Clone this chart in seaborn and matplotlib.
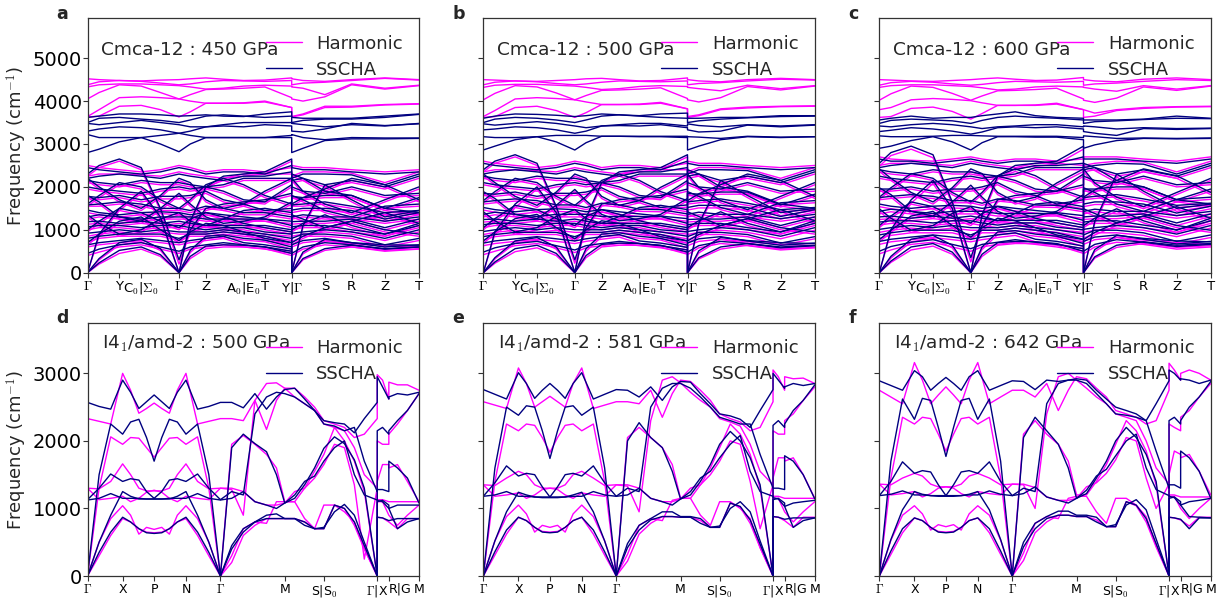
import matplotlib
matplotlib.use("Agg")
import matplotlib.pyplot as plt
from matplotlib.lines import Line2D
import pandas as pd
import seaborn as sns

sns.set_theme(style="white")
plt.rcParams.update({
    "font.family": ["DejaVu Sans"],
    "mathtext.fontset": "cm",
    "axes.edgecolor": "#333333",
    "axes.linewidth": 0.9,
    "xtick.bottom": True,
    "ytick.left": True,
    "xtick.major.size": 3.5,
    "ytick.major.size": 3.5,
    "xtick.major.width": 0.8,
    "ytick.major.width": 0.8,
    "xtick.color": "#333333",
    "ytick.color": "#333333",
    "xtick.labelcolor": "black",
    "ytick.labelcolor": "black",
})

HARM_COLOR = "#ff00ff"
SSCHA_COLOR = "#000080"

# ---------------------------------------------------------------- Cmca-12
# k-path: G .. Y C0|S0 .. G .. Z .. A0|E0 T Y|G .. S R Z T
cmca_k = [0.0, 0.035, 0.096, 0.162, 0.22, 0.276, 0.31, 0.357, 0.41, 0.471,
          0.535, 0.616, 0.616, 0.65, 0.716, 0.797, 0.897, 1.0]
cmca_ticks = [0.0, 0.096, 0.162, 0.276, 0.357, 0.471, 0.535, 0.616, 0.716, 0.797, 0.897, 1.0]
cmca_labels = [r"$\Gamma$", "Y", r"C$_0$|$\Sigma_0$", r"$\Gamma$", "Z", r"A$_0$|E$_0$",
               "T", r"Y|$\Gamma$", "S", "R", "Z", "T"]

# 450 GPa
a_harm = [
    [4520, 4500, 4480, 4470, 4490, 4500, 4520, 4540, 4510, 4480, 4490, 4540, 4520, 4480, 4460, 4500, 4540, 4500],
    [4380, 4450, 4480, 4460, 4420, 4380, 4400, 4450, 4480, 4470, 4460, 4480, 4380, 4420, 4440, 4480, 4530, 4490],
    [4330, 4380, 4400, 4400, 4380, 4360, 4330, 4280, 4300, 4350, 4370, 4350, 4330, 4300, 4150, 4400, 4300, 4370],
    [4050, 4200, 4380, 4350, 4200, 4050, 4150, 4270, 4280, 4300, 4330, 4080, 4050, 4000, 4100, 4380, 4280, 4360],
    [3640, 3800, 4080, 4100, 4080, 4050, 4000, 3950, 3950, 3960, 4000, 3850, 3640, 3700, 3880, 3880, 3920, 3940],
    [3630, 3650, 3880, 3900, 3800, 3630, 3750, 3950, 3950, 3950, 3980, 3850, 3630, 3680, 3850, 3860, 3910, 3930],
    [0, 200, 450, 550, 380, 0, 330, 560, 600, 600, 560, 400, 0, 300, 520, 600, 520, 560],
    [0, 300, 650, 720, 520, 0, 470, 800, 830, 760, 720, 550, 0, 440, 740, 680, 620, 600],
    [0, 850, 1450, 1850, 1250, 0, 1150, 1950, 2200, 2250, 2300, 2600, 0, 1050, 2000, 1650, 1250, 1400],
    [2250, 2450, 2600, 2400, 1450, 200, 950, 1450, 1550, 1600, 1650, 1800, 2250, 2150, 1850, 1750, 1450, 1350],
    [2500, 2450, 2400, 2350, 2400, 2500, 2450, 2350, 2400, 2400, 2350, 2450, 2500, 2450, 2450, 2400, 2350, 2400],
    [2250, 2300, 2300, 2280, 2250, 2350, 2300, 2250, 2200, 2300, 2300, 2300, 2250, 2350, 2350, 2320, 2100, 2350],
    [2100, 2050, 2000, 2100, 2050, 2050, 2000, 1950, 2000, 2150, 2150, 2150, 2100, 2150, 2000, 2100, 1950, 2200],
    [1950, 1900, 1850, 1800, 1900, 1950, 1900, 1950, 1850, 1650, 1600, 2000, 1950, 1850, 1800, 1950, 1750, 1800],
    [1750, 1700, 1750, 1650, 1720, 1720, 1750, 1850, 1650, 1550, 1400, 1450, 1750, 1700, 1750, 1750, 1450, 1700],
    [1550, 1550, 1600, 1550, 1450, 1450, 1400, 1500, 1450, 1350, 1350, 1250, 1550, 1550, 1600, 1500, 1350, 1400],
    [1400, 1350, 1300, 1350, 1380, 1350, 1300, 1350, 1300, 1250, 1200, 1150, 1400, 1450, 1450, 1400, 1200, 1350],
    [1250, 1300, 1250, 1200, 1250, 1250, 1250, 1200, 1200, 1200, 1200, 1050, 1250, 1300, 1250, 1250, 1150, 1250],
    [1130, 1150, 1100, 1150, 1100, 1150, 1100, 1050, 1050, 1050, 1050, 950, 1130, 1150, 1150, 1200, 1000, 1200],
    [1000, 1050, 1050, 1000, 1050, 1050, 1000, 950, 1000, 1000, 900, 850, 1000, 1050, 1050, 950, 850, 1050],
    [850, 900, 950, 900, 950, 900, 900, 900, 950, 900, 850, 750, 850, 900, 950, 900, 750, 950],
    [720, 800, 850, 850, 850, 750, 850, 850, 900, 850, 800, 650, 720, 850, 850, 800, 600, 750],
    [600, 650, 700, 750, 700, 650, 700, 750, 800, 650, 600, 500, 600, 700, 750, 650, 550, 600],
    [400, 480, 600, 650, 550, 450, 550, 600, 650, 600, 550, 450, 400, 550, 650, 600, 500, 550],
    [2150, 1950, 1650, 1450, 1750, 2150, 2050, 1650, 1450, 1550, 1850, 2150, 2150, 1850, 1550, 1350, 1650, 1950],
    [1550, 1750, 2050, 1950, 1650, 1450, 1650, 2000, 2150, 2000, 1750, 1550, 1550, 1700, 1900, 2150, 2000, 1650],
    [950, 1150, 1450, 1350, 1150, 1000, 1200, 1350, 1250, 1100, 1000, 900, 950, 1100, 1300, 1050, 850, 1100],
    [1300, 1100, 850, 950, 1200, 1350, 1150, 1050, 1200, 1400, 1450, 1350, 1300, 1200, 1000, 1150, 1350, 1100],
    [1750, 1600, 1250, 1150, 1450, 1800, 1550, 1250, 1100, 1150, 1250, 1600, 1750, 1650, 1400, 1250, 1500, 1550],
    [650, 850, 1150, 1250, 950, 700, 900, 1100, 1050, 900, 750, 650, 650, 800, 1000, 1150, 950, 850],
]
a_sscha = [
    [3620, 3650, 3700, 3700, 3680, 3650, 3660, 3680, 3650, 3640, 3700, 3750, 3620, 3600, 3600, 3600, 3650, 3700],
    [3500, 3600, 3620, 3580, 3550, 3500, 3560, 3650, 3680, 3650, 3620, 3650, 3500, 3550, 3580, 3580, 3620, 3690],
    [3480, 3450, 3500, 3550, 3500, 3450, 3400, 3400, 3450, 3500, 3500, 3500, 3480, 3450, 3400, 3450, 3420, 3480],
    [3300, 3350, 3400, 3380, 3330, 3250, 3300, 3400, 3420, 3400, 3450, 3420, 3300, 3280, 3350, 3480, 3430, 3470],
    [3220, 3150, 3150, 3150, 3200, 3250, 3200, 3150, 3150, 3150, 3150, 3200, 3220, 3150, 3100, 3150, 3140, 3140],
    [2800, 2880, 3050, 3150, 3000, 2820, 3000, 3150, 3150, 3150, 3150, 3150, 2800, 2900, 3080, 3120, 3120, 3130],
    [0, 230, 520, 600, 420, 0, 380, 620, 650, 640, 600, 450, 0, 330, 560, 640, 560, 600],
    [0, 330, 700, 780, 560, 0, 520, 850, 880, 800, 760, 600, 0, 480, 780, 700, 650, 640],
    [0, 900, 1500, 1900, 1300, 0, 1200, 2000, 2250, 2300, 2350, 2650, 0, 1100, 2050, 1700, 1300, 1450],
    [2300, 2500, 2650, 2450, 1500, 300, 1000, 1500, 1600, 1650, 1700, 1850, 2300, 2200, 1900, 1800, 1500, 1400],
    [2450, 2400, 2350, 2300, 2350, 2450, 2400, 2300, 2350, 2350, 2300, 2500, 2450, 2400, 2400, 2350, 2300, 2350],
    [2200, 2250, 2300, 2250, 2200, 2300, 2250, 2200, 2150, 2250, 2250, 2350, 2200, 2300, 2300, 2280, 2050, 2300],
    [2150, 2100, 2050, 2150, 2100, 2100, 2050, 2000, 2050, 2200, 2200, 2200, 2150, 2200, 2050, 2150, 2000, 2250],
    [2000, 1950, 1900, 1850, 1950, 2000, 1950, 2000, 1900, 1700, 1650, 2050, 2000, 1900, 1850, 2000, 1800, 1850],
    [1780, 1750, 1800, 1700, 1780, 1780, 1800, 1900, 1700, 1600, 1450, 1500, 1780, 1750, 1800, 1800, 1500, 1750],
    [1580, 1600, 1650, 1600, 1500, 1500, 1450, 1550, 1500, 1400, 1400, 1300, 1580, 1600, 1650, 1550, 1400, 1450],
    [1460, 1400, 1350, 1400, 1420, 1400, 1350, 1400, 1350, 1300, 1250, 1200, 1460, 1500, 1500, 1450, 1250, 1400],
    [1300, 1350, 1300, 1250, 1300, 1300, 1300, 1250, 1250, 1250, 1250, 1100, 1300, 1350, 1300, 1300, 1200, 1300],
    [1190, 1200, 1150, 1200, 1150, 1200, 1150, 1100, 1100, 1100, 1100, 1000, 1190, 1200, 1200, 1250, 1050, 1250],
    [1070, 1100, 1100, 1050, 1100, 1100, 1050, 1000, 1050, 1050, 950, 900, 1070, 1100, 1100, 1000, 900, 1100],
    [920, 950, 1000, 950, 1000, 950, 950, 950, 1000, 950, 900, 800, 920, 950, 1000, 950, 800, 1000],
    [800, 850, 900, 900, 900, 800, 900, 900, 950, 900, 850, 700, 800, 900, 900, 850, 650, 800],
    [650, 700, 750, 800, 750, 700, 750, 800, 850, 700, 650, 550, 650, 750, 800, 700, 600, 650],
    [450, 550, 650, 700, 600, 500, 600, 650, 700, 650, 600, 500, 450, 600, 700, 650, 550, 600],
    [2200, 2000, 1700, 1500, 1800, 2200, 2100, 1700, 1500, 1600, 1900, 2200, 2200, 1900, 1600, 1400, 1700, 2000],
    [1600, 1800, 2100, 2000, 1700, 1500, 1700, 2050, 2200, 2050, 1800, 1600, 1600, 1750, 1950, 2200, 2050, 1700],
    [1000, 1200, 1500, 1400, 1200, 1050, 1250, 1400, 1300, 1150, 1050, 950, 1000, 1150, 1350, 1100, 900, 1150],
    [1350, 1150, 900, 1000, 1250, 1400, 1200, 1100, 1250, 1450, 1500, 1400, 1350, 1250, 1050, 1200, 1400, 1150],
    [1800, 1650, 1300, 1200, 1500, 1850, 1600, 1300, 1150, 1200, 1300, 1650, 1800, 1700, 1450, 1300, 1550, 1600],
    [700, 900, 1200, 1300, 1000, 750, 950, 1150, 1100, 950, 800, 700, 700, 850, 1050, 1200, 1000, 900],
]

# 500 GPa
b_harm = [
    [4500, 4490, 4470, 4460, 4480, 4500, 4520, 4530, 4500, 4470, 4480, 4540, 4500, 4470, 4450, 4500, 4530, 4500],
    [4380, 4440, 4470, 4450, 4410, 4380, 4400, 4440, 4470, 4460, 4450, 4470, 4380, 4410, 4430, 4470, 4510, 4490],
    [4320, 4370, 4390, 4390, 4370, 4350, 4320, 4270, 4290, 4340, 4360, 4340, 4320, 4290, 4240, 4370, 4290, 4360],
    [4030, 4180, 4360, 4330, 4190, 4030, 4130, 4250, 4260, 4280, 4310, 4060, 4030, 3980, 4080, 4340, 4260, 4350],
    [3640, 3780, 4050, 4080, 4060, 4030, 3980, 3920, 3920, 3930, 3970, 3820, 3640, 3680, 3820, 3860, 3880, 3890],
    [3620, 3640, 3850, 3880, 3780, 3620, 3730, 3920, 3920, 3920, 3950, 3820, 3620, 3660, 3800, 3840, 3870, 3880],
    [0, 220, 490, 580, 400, 0, 350, 600, 640, 640, 600, 430, 0, 320, 550, 640, 550, 590],
    [0, 320, 690, 760, 550, 0, 500, 840, 870, 800, 760, 580, 0, 460, 780, 720, 660, 630],
    [0, 900, 1520, 1950, 1330, 0, 1220, 2050, 2300, 2350, 2400, 2700, 0, 1100, 2100, 1750, 1330, 1450],
    [2350, 2550, 2700, 2500, 1500, 220, 1000, 1550, 1650, 1700, 1750, 1900, 2350, 2250, 1950, 1850, 1550, 1450],
    [2600, 2550, 2500, 2450, 2500, 2600, 2550, 2450, 2500, 2500, 2450, 2550, 2600, 2550, 2550, 2500, 2450, 2500],
    [2350, 2400, 2400, 2380, 2350, 2450, 2400, 2350, 2300, 2400, 2400, 2400, 2350, 2450, 2450, 2420, 2200, 2450],
    [2200, 2150, 2100, 2200, 2150, 2150, 2100, 2050, 2100, 2250, 2250, 2250, 2200, 2250, 2100, 2200, 2050, 2300],
    [2050, 2000, 1950, 1900, 2000, 2050, 2000, 2050, 1950, 1750, 1700, 2100, 2050, 1950, 1900, 2050, 1850, 1900],
    [1800, 1780, 1830, 1730, 1800, 1800, 1830, 1930, 1730, 1630, 1470, 1530, 1800, 1780, 1830, 1830, 1530, 1780],
    [1600, 1630, 1670, 1630, 1530, 1530, 1470, 1570, 1530, 1430, 1420, 1320, 1600, 1630, 1670, 1570, 1420, 1470],
    [1460, 1410, 1360, 1410, 1430, 1410, 1360, 1410, 1360, 1310, 1260, 1200, 1460, 1510, 1510, 1460, 1250, 1410],
    [1300, 1350, 1300, 1250, 1300, 1300, 1300, 1250, 1250, 1250, 1250, 1100, 1300, 1350, 1300, 1300, 1200, 1300],
    [1180, 1200, 1150, 1200, 1150, 1200, 1150, 1100, 1100, 1100, 1100, 1000, 1180, 1200, 1200, 1250, 1050, 1250],
    [1050, 1100, 1100, 1050, 1100, 1100, 1050, 1000, 1050, 1050, 950, 900, 1050, 1100, 1100, 1000, 900, 1100],
    [890, 940, 990, 940, 990, 940, 940, 940, 990, 940, 890, 790, 890, 940, 990, 940, 790, 990],
    [760, 840, 890, 890, 890, 790, 890, 890, 940, 890, 840, 690, 760, 890, 890, 840, 640, 790],
    [630, 680, 730, 780, 730, 680, 730, 780, 830, 680, 630, 530, 630, 730, 780, 680, 580, 630],
    [420, 500, 630, 680, 580, 470, 580, 630, 680, 630, 580, 470, 420, 580, 680, 630, 530, 580],
    [2250, 2050, 1730, 1520, 1830, 2250, 2150, 1730, 1520, 1630, 1940, 2250, 2250, 1940, 1630, 1420, 1730, 2050],
    [1630, 1840, 2150, 2050, 1730, 1520, 1730, 2100, 2250, 2100, 1840, 1630, 1630, 1790, 2000, 2250, 2100, 1730],
    [1000, 1210, 1520, 1420, 1210, 1050, 1260, 1420, 1310, 1160, 1050, 950, 1000, 1160, 1370, 1100, 900, 1160],
    [1370, 1160, 900, 1000, 1260, 1420, 1210, 1100, 1260, 1470, 1520, 1420, 1370, 1260, 1050, 1210, 1420, 1160],
    [1840, 1680, 1310, 1210, 1520, 1890, 1630, 1310, 1160, 1210, 1310, 1680, 1840, 1730, 1470, 1310, 1580, 1630],
    [690, 900, 1210, 1310, 1000, 740, 950, 1160, 1100, 950, 790, 690, 690, 840, 1050, 1210, 1000, 900],
]
b_sscha = [
    [3600, 3650, 3700, 3690, 3670, 3640, 3660, 3700, 3680, 3660, 3700, 3720, 3600, 3600, 3620, 3620, 3660, 3660],
    [3500, 3580, 3620, 3600, 3560, 3500, 3560, 3650, 3680, 3650, 3620, 3600, 3500, 3540, 3580, 3610, 3640, 3650],
    [3470, 3440, 3480, 3520, 3480, 3420, 3380, 3420, 3450, 3480, 3480, 3420, 3470, 3430, 3400, 3450, 3420, 3450],
    [3330, 3350, 3400, 3380, 3330, 3250, 3300, 3420, 3430, 3420, 3450, 3380, 3330, 3280, 3300, 3440, 3400, 3440],
    [3170, 3150, 3150, 3170, 3200, 3200, 3200, 3180, 3180, 3180, 3180, 3180, 3170, 3160, 3130, 3180, 3160, 3170],
    [2860, 2950, 3100, 3170, 3050, 2860, 3030, 3180, 3180, 3170, 3170, 3150, 2860, 2950, 3100, 3170, 3150, 3170],
    [0, 250, 560, 640, 450, 0, 400, 660, 690, 680, 640, 480, 0, 350, 600, 680, 600, 640],
    [0, 350, 740, 820, 600, 0, 560, 900, 930, 850, 800, 640, 0, 510, 820, 750, 700, 680],
    [0, 950, 1600, 2000, 1400, 0, 1280, 2100, 2350, 2400, 2450, 2750, 0, 1150, 2150, 1800, 1400, 1500],
    [2400, 2600, 2750, 2550, 1550, 300, 1050, 1600, 1700, 1750, 1800, 1950, 2400, 2300, 2000, 1900, 1600, 1500],
    [2550, 2500, 2450, 2400, 2450, 2550, 2500, 2400, 2450, 2450, 2400, 2600, 2550, 2500, 2500, 2450, 2400, 2450],
    [2300, 2350, 2400, 2350, 2300, 2400, 2350, 2300, 2250, 2350, 2350, 2450, 2300, 2400, 2400, 2380, 2150, 2400],
    [2250, 2200, 2150, 2250, 2200, 2200, 2150, 2100, 2150, 2300, 2300, 2300, 2250, 2300, 2150, 2250, 2100, 2350],
    [2100, 2050, 2000, 1950, 2050, 2100, 2050, 2100, 2000, 1800, 1750, 2150, 2100, 2000, 1950, 2100, 1900, 1950],
    [1850, 1830, 1880, 1780, 1850, 1850, 1880, 1980, 1780, 1680, 1520, 1580, 1850, 1830, 1880, 1880, 1580, 1830],
    [1650, 1680, 1720, 1680, 1580, 1580, 1520, 1620, 1580, 1480, 1470, 1370, 1650, 1680, 1720, 1620, 1470, 1520],
    [1520, 1470, 1420, 1470, 1490, 1470, 1420, 1470, 1420, 1370, 1320, 1260, 1520, 1570, 1570, 1520, 1310, 1470],
    [1360, 1410, 1360, 1310, 1360, 1360, 1360, 1310, 1310, 1310, 1310, 1150, 1360, 1410, 1360, 1360, 1260, 1360],
    [1240, 1250, 1200, 1250, 1200, 1250, 1200, 1150, 1150, 1150, 1150, 1050, 1240, 1250, 1250, 1300, 1100, 1300],
    [1120, 1150, 1150, 1100, 1150, 1150, 1100, 1050, 1100, 1100, 1000, 950, 1120, 1150, 1150, 1050, 950, 1150],
    [960, 1000, 1050, 1000, 1050, 1000, 1000, 1000, 1050, 1000, 950, 850, 960, 1000, 1050, 1000, 850, 1050],
    [840, 890, 940, 940, 940, 840, 940, 940, 990, 940, 890, 740, 840, 940, 940, 890, 690, 840],
    [690, 740, 790, 840, 790, 740, 790, 840, 890, 740, 690, 590, 690, 790, 840, 740, 640, 690],
    [480, 580, 680, 730, 630, 530, 630, 680, 730, 680, 630, 530, 480, 630, 730, 680, 580, 630],
    [2300, 2100, 1780, 1570, 1880, 2300, 2200, 1780, 1570, 1680, 1990, 2300, 2300, 1990, 1680, 1470, 1780, 2100],
    [1680, 1890, 2200, 2100, 1780, 1570, 1780, 2150, 2300, 2150, 1890, 1680, 1680, 1840, 2050, 2300, 2150, 1780],
    [1050, 1260, 1570, 1470, 1260, 1100, 1310, 1470, 1360, 1210, 1100, 1000, 1050, 1210, 1420, 1150, 950, 1210],
    [1420, 1210, 950, 1050, 1310, 1470, 1260, 1150, 1310, 1520, 1570, 1470, 1420, 1310, 1100, 1260, 1470, 1210],
    [1890, 1730, 1360, 1260, 1570, 1940, 1680, 1360, 1210, 1260, 1360, 1730, 1890, 1780, 1520, 1360, 1630, 1680],
    [740, 950, 1260, 1360, 1050, 790, 1000, 1210, 1150, 1000, 840, 740, 740, 890, 1100, 1260, 1050, 950],
]

# 600 GPa
c_harm = [
    [4500, 4490, 4470, 4460, 4480, 4500, 4520, 4540, 4510, 4480, 4490, 4550, 4500, 4470, 4450, 4510, 4540, 4500],
    [4370, 4430, 4460, 4440, 4400, 4370, 4390, 4430, 4460, 4450, 4440, 4460, 4370, 4400, 4420, 4460, 4500, 4480],
    [4320, 4360, 4380, 4380, 4360, 4340, 4310, 4260, 4280, 4330, 4350, 4330, 4320, 4280, 4230, 4360, 4280, 4360],
    [4020, 4170, 4350, 4320, 4180, 4020, 4120, 4240, 4250, 4270, 4300, 4050, 4020, 3970, 4070, 4330, 4250, 4350],
    [3800, 3850, 4030, 4060, 4040, 4010, 3960, 3900, 3900, 3910, 3950, 3800, 3800, 3720, 3800, 3850, 3870, 3880],
    [3620, 3640, 3830, 3860, 3760, 3580, 3710, 3900, 3900, 3900, 3930, 3800, 3620, 3650, 3780, 3830, 3860, 3870],
    [0, 240, 530, 620, 430, 0, 380, 640, 680, 680, 640, 450, 0, 340, 590, 680, 590, 630],
    [0, 340, 720, 800, 580, 0, 540, 890, 920, 850, 800, 610, 0, 490, 830, 760, 700, 670],
    [0, 950, 1620, 2080, 1420, 0, 1290, 2180, 2430, 2480, 2530, 2880, 0, 1150, 2230, 1850, 1430, 1550],
    [2480, 2730, 2880, 2680, 1600, 250, 1050, 1650, 1750, 1800, 1850, 2000, 2480, 2380, 2100, 1950, 1650, 1550],
    [2700, 2650, 2620, 2600, 2650, 2700, 2650, 2600, 2650, 2650, 2600, 2650, 2700, 2700, 2700, 2650, 2600, 2700],
    [2500, 2550, 2550, 2530, 2500, 2600, 2550, 2500, 2450, 2550, 2550, 2500, 2500, 2550, 2600, 2580, 2350, 2600],
    [2350, 2300, 2250, 2350, 2300, 2300, 2250, 2200, 2250, 2400, 2400, 2400, 2350, 2400, 2250, 2350, 2200, 2450],
    [2200, 2150, 2100, 2050, 2150, 2200, 2150, 2200, 2100, 1900, 1850, 2250, 2200, 2100, 2050, 2200, 2000, 2050],
    [1900, 1900, 1950, 1850, 1900, 1900, 1950, 2050, 1850, 1750, 1550, 1650, 1900, 1900, 1950, 1950, 1650, 1900],
    [1700, 1730, 1770, 1730, 1630, 1630, 1570, 1670, 1630, 1530, 1520, 1420, 1700, 1730, 1770, 1670, 1520, 1570],
    [1540, 1490, 1440, 1490, 1510, 1490, 1440, 1490, 1440, 1390, 1340, 1270, 1540, 1590, 1590, 1540, 1330, 1490],
    [1370, 1420, 1370, 1320, 1370, 1370, 1370, 1320, 1320, 1320, 1320, 1160, 1370, 1420, 1370, 1370, 1270, 1370],
    [1240, 1260, 1210, 1260, 1210, 1260, 1210, 1160, 1160, 1160, 1160, 1050, 1240, 1260, 1260, 1310, 1100, 1310],
    [1110, 1150, 1150, 1100, 1150, 1150, 1100, 1050, 1100, 1100, 1000, 940, 1110, 1150, 1150, 1050, 940, 1150],
    [940, 990, 1040, 990, 1040, 990, 990, 990, 1040, 990, 940, 840, 940, 990, 1040, 990, 840, 1040],
    [800, 870, 930, 930, 930, 820, 930, 930, 980, 930, 870, 720, 800, 930, 930, 870, 670, 820],
    [660, 720, 770, 820, 770, 720, 770, 820, 870, 720, 670, 560, 660, 770, 820, 720, 610, 670],
    [440, 530, 660, 710, 600, 500, 600, 660, 710, 660, 600, 500, 440, 600, 710, 660, 550, 600],
    [2360, 2150, 1820, 1600, 1930, 2360, 2260, 1820, 1600, 1710, 2040, 2360, 2360, 2040, 1710, 1490, 1820, 2150],
    [1710, 1930, 2260, 2150, 1820, 1600, 1820, 2200, 2360, 2200, 1930, 1710, 1710, 1880, 2100, 2360, 2200, 1820],
    [1050, 1270, 1600, 1490, 1270, 1100, 1320, 1490, 1380, 1210, 1100, 990, 1050, 1210, 1430, 1160, 940, 1210],
    [1430, 1210, 940, 1050, 1320, 1490, 1270, 1160, 1320, 1540, 1600, 1490, 1430, 1320, 1100, 1270, 1490, 1210],
    [1930, 1760, 1380, 1270, 1600, 1980, 1710, 1380, 1210, 1270, 1380, 1760, 1930, 1820, 1540, 1380, 1650, 1710],
    [720, 940, 1270, 1380, 1050, 770, 990, 1210, 1160, 990, 830, 720, 720, 880, 1100, 1270, 1050, 940],
]
c_sscha = [
    [3560, 3600, 3650, 3600, 3620, 3620, 3660, 3700, 3750, 3660, 3620, 3600, 3560, 3560, 3560, 3580, 3650, 3600],
    [3480, 3550, 3580, 3560, 3540, 3480, 3550, 3620, 3650, 3620, 3600, 3560, 3480, 3520, 3540, 3570, 3600, 3590],
    [3420, 3400, 3450, 3480, 3450, 3400, 3360, 3400, 3420, 3450, 3450, 3400, 3420, 3400, 3350, 3380, 3360, 3370],
    [3290, 3320, 3380, 3350, 3300, 3230, 3280, 3380, 3400, 3380, 3400, 3350, 3290, 3250, 3200, 3360, 3340, 3360],
    [3190, 3170, 3170, 3180, 3200, 3200, 3190, 3180, 3180, 3180, 3180, 3150, 3190, 3170, 3130, 3140, 3130, 3140],
    [2900, 2950, 3080, 3170, 3050, 2860, 3030, 3170, 3170, 3160, 3160, 3100, 2900, 2980, 3080, 3130, 3120, 3130],
    [0, 270, 600, 680, 480, 0, 430, 700, 730, 720, 680, 500, 0, 370, 640, 720, 640, 680],
    [0, 380, 780, 870, 640, 0, 600, 950, 980, 900, 850, 680, 0, 540, 870, 800, 740, 720],
    [0, 1000, 1700, 2150, 1500, 0, 1350, 2250, 2500, 2550, 2600, 2950, 0, 1200, 2300, 1900, 1500, 1600],
    [2550, 2800, 2950, 2750, 1650, 350, 1100, 1700, 1800, 1850, 1900, 2050, 2550, 2450, 2150, 2000, 1700, 1600],
    [2650, 2600, 2600, 2550, 2600, 2650, 2600, 2550, 2600, 2600, 2550, 2700, 2650, 2650, 2650, 2600, 2550, 2650],
    [2450, 2500, 2550, 2500, 2450, 2550, 2500, 2450, 2400, 2500, 2500, 2550, 2450, 2500, 2550, 2530, 2300, 2550],
    [2400, 2350, 2300, 2400, 2350, 2350, 2300, 2250, 2300, 2450, 2450, 2450, 2400, 2450, 2300, 2400, 2250, 2500],
    [2250, 2200, 2150, 2100, 2200, 2250, 2200, 2250, 2150, 1950, 1900, 2300, 2250, 2150, 2100, 2250, 2050, 2100],
    [1950, 1950, 2000, 1900, 1950, 1950, 2000, 2100, 1900, 1800, 1600, 1700, 1950, 1950, 2000, 2000, 1700, 1950],
    [1750, 1780, 1820, 1780, 1680, 1680, 1620, 1720, 1680, 1580, 1570, 1470, 1750, 1780, 1820, 1720, 1570, 1620],
    [1600, 1550, 1500, 1550, 1570, 1550, 1500, 1550, 1500, 1450, 1400, 1330, 1600, 1650, 1650, 1600, 1390, 1550],
    [1430, 1480, 1430, 1380, 1430, 1430, 1430, 1380, 1380, 1380, 1380, 1220, 1430, 1480, 1430, 1430, 1330, 1430],
    [1300, 1320, 1270, 1320, 1270, 1320, 1270, 1220, 1220, 1220, 1220, 1110, 1300, 1320, 1320, 1370, 1160, 1370],
    [1180, 1210, 1210, 1160, 1210, 1210, 1160, 1110, 1160, 1160, 1060, 1000, 1180, 1210, 1210, 1110, 1000, 1210],
    [1010, 1050, 1100, 1050, 1100, 1050, 1050, 1050, 1100, 1050, 1000, 900, 1010, 1050, 1100, 1050, 900, 1100],
    [880, 930, 990, 990, 990, 880, 990, 990, 1040, 990, 930, 780, 880, 990, 990, 930, 730, 880],
    [730, 780, 830, 880, 830, 780, 830, 880, 930, 780, 730, 620, 730, 830, 880, 780, 670, 730],
    [500, 610, 710, 770, 660, 560, 660, 710, 770, 710, 660, 560, 500, 660, 770, 710, 610, 660],
    [2420, 2200, 1870, 1650, 1980, 2420, 2310, 1870, 1650, 1760, 2090, 2420, 2420, 2090, 1760, 1540, 1870, 2200],
    [1760, 1980, 2310, 2200, 1870, 1650, 1870, 2260, 2420, 2260, 1980, 1760, 1760, 1930, 2150, 2420, 2260, 1870],
    [1100, 1320, 1650, 1540, 1320, 1160, 1380, 1540, 1430, 1270, 1160, 1050, 1100, 1270, 1490, 1210, 990, 1270],
    [1490, 1270, 990, 1100, 1380, 1540, 1320, 1210, 1380, 1600, 1650, 1540, 1490, 1380, 1160, 1320, 1540, 1270],
    [1980, 1820, 1430, 1320, 1650, 2040, 1760, 1430, 1270, 1320, 1430, 1820, 1980, 1870, 1600, 1430, 1710, 1760],
    [770, 990, 1320, 1430, 1100, 830, 1050, 1270, 1210, 1050, 880, 770, 770, 940, 1160, 1320, 1100, 990],
]

# ---------------------------------------------------------------- I4_1/amd-2
# k-path: G X P N G .. M S|S0 .. G|X R|G .. M
i4_k = [0.0, 0.035, 0.07, 0.106, 0.13, 0.155, 0.178, 0.201, 0.224, 0.247, 0.271, 0.297, 0.332, 0.366, 0.401,
        0.435, 0.47, 0.505, 0.54, 0.57, 0.595, 0.625, 0.655, 0.685, 0.713, 0.745, 0.775, 0.805, 0.835, 0.874,
        0.874, 0.89, 0.909, 0.909, 0.935, 0.965, 1.0]
i4_ticks = [0.0, 0.106, 0.201, 0.297, 0.401, 0.595, 0.713, 0.874, 0.909, 1.0]
i4_labels = [r"$\Gamma$", "X", "P", "N", r"$\Gamma$", "M", r"S|S$_0$", r"$\Gamma$|X", "R|G", "M"]

# 500 GPa
d_harm = [
    [2330, 2290, 2250, 3000, 2750, 2410, 2480, 2560, 2480, 2410, 2750, 3000, 2250, 2290, 2330,
     2330, 2300, 2600, 2170, 2600, 2780, 2780, 2650, 2500, 2300, 2250, 2200, 2050, 2100, 2330,
     2980, 2900, 2620, 2870, 2830, 2830, 2750],
    [0, 1300, 2060, 1950, 2050, 2040, 1900, 1760, 1900, 2040, 2050, 1950, 2060, 1300, 0,
     1950, 2080, 1950, 1800, 1600, 1100, 1100, 1300, 1550, 1800, 2200, 2000, 1700, 1250, 0,
     2000, 1950, 1950, 2100, 2250, 2450, 2700],
    [1300, 1290, 1400, 1660, 1500, 1300, 1260, 1260, 1260, 1300, 1500, 1660, 1400, 1290, 1300,
     1280, 900, 2600, 2850, 2860, 2780, 2650, 2550, 2450, 2250, 2200, 2150, 1900, 1500, 1300,
     1400, 1650, 1650, 1600, 1650, 1400, 1100],
    [0, 500, 850, 1040, 900, 620, 720, 690, 720, 620, 900, 1040, 850, 500, 0,
     300, 700, 800, 780, 1100, 1100, 1100, 850, 700, 1050, 1050, 950, 800, 400, 0,
     1100, 1100, 900, 900, 750, 900, 1050],
    [0, 300, 600, 850, 800, 700, 650, 640, 650, 700, 800, 850, 600, 300, 0,
     200, 600, 750, 850, 850, 850, 850, 800, 700, 700, 1050, 1000, 750, 400, 0,
     870, 860, 800, 800, 700, 850, 850],
    [1300, 1130, 1150, 1180, 1100, 1150, 1240, 1270, 1240, 1150, 1100, 1180, 1150, 1130, 1300,
     1300, 1250, 1100, 1050, 1050, 1080, 1250, 1300, 1450, 1650, 1950, 1900, 1350, 250, 1300,
     1130, 1130, 1100, 1100, 1100, 1100, 1100],
]
d_sscha = [
    [2570, 2510, 2470, 2900, 2720, 2480, 2580, 2680, 2580, 2480, 2720, 2900, 2470, 2510, 2570,
     2570, 2490, 2700, 2470, 2650, 2760, 2780, 2620, 2450, 2300, 2270, 2250, 2120, 2330, 2570,
     2950, 2800, 2620, 2650, 2700, 2680, 2720],
    [0, 1500, 2250, 2100, 2280, 2320, 2050, 1700, 2050, 2320, 2280, 2100, 2250, 1500, 0,
     1900, 2100, 1960, 1840, 1500, 1080, 1150, 1350, 1600, 1890, 2060, 1960, 1720, 1300, 0,
     2150, 2200, 2100, 2150, 2300, 2450, 2700],
    [1130, 1300, 1510, 1400, 1440, 1420, 1250, 1150, 1250, 1420, 1440, 1400, 1510, 1300, 1130,
     1250, 1200, 2400, 2650, 2720, 2700, 2650, 2550, 2450, 2250, 2220, 2150, 2200, 1700, 1250,
     1280, 1280, 1250, 1700, 1600, 1450, 1080],
    [0, 500, 900, 1250, 1180, 1140, 1140, 1140, 1140, 1140, 1180, 1250, 900, 500, 0,
     450, 700, 800, 900, 920, 850, 850, 800, 700, 720, 950, 1060, 900, 500, 0,
     1100, 1120, 1050, 1000, 1050, 1050, 1050],
    [0, 350, 650, 870, 800, 700, 640, 630, 640, 700, 800, 870, 650, 350, 0,
     400, 650, 800, 850, 850, 850, 850, 750, 700, 700, 1050, 1000, 800, 450, 0,
     870, 860, 820, 820, 850, 850, 850],
    [1125, 1150, 1220, 1150, 1150, 1150, 1140, 1140, 1140, 1150, 1150, 1150, 1220, 1150, 1125,
     1150, 1250, 1100, 1050, 1000, 1080, 1200, 1400, 1480, 1700, 1900, 2000, 1500, 1200, 1125,
     1120, 1100, 1000, 1000, 700, 800, 850],
]

# 581 GPa
e_harm = [
    [2580, 2530, 2480, 3080, 2850, 2500, 2580, 2660, 2580, 2500, 2850, 3080, 2480, 2530, 2580,
     2580, 2550, 2750, 2350, 2700, 2900, 2880, 2750, 2600, 2400, 2330, 2280, 2150, 2200, 2580,
     3050, 2950, 2750, 2950, 2920, 2930, 2850],
    [0, 1400, 2250, 2150, 2250, 2230, 2050, 1830, 2050, 2230, 2250, 2150, 2250, 1400, 0,
     2050, 2200, 2050, 1900, 1650, 1150, 1150, 1350, 1600, 1900, 2250, 2100, 1800, 1300, 0,
     2150, 2100, 2100, 2300, 2400, 2600, 2800],
    [1350, 1340, 1450, 1550, 1500, 1350, 1300, 1300, 1300, 1350, 1500, 1550, 1450, 1340, 1350,
     1330, 950, 2300, 2900, 2950, 2860, 2720, 2600, 2500, 2330, 2280, 2220, 1950, 1550, 1350,
     1450, 1750, 1750, 1700, 1750, 1500, 1150],
    [0, 520, 880, 1050, 920, 650, 750, 720, 750, 650, 920, 1050, 880, 520, 0,
     320, 750, 850, 820, 1120, 1150, 1150, 900, 750, 1100, 1100, 1000, 850, 420, 0,
     1150, 1150, 950, 950, 800, 950, 1100],
    [0, 310, 620, 870, 820, 720, 660, 650, 660, 720, 820, 870, 620, 310, 0,
     220, 620, 780, 880, 880, 870, 870, 820, 720, 720, 1080, 1020, 780, 420, 0,
     880, 870, 820, 820, 720, 870, 870],
    [1350, 1180, 1200, 1230, 1150, 1200, 1280, 1300, 1280, 1200, 1150, 1230, 1200, 1180, 1350,
     1350, 1300, 1150, 1100, 1100, 1140, 1300, 1350, 1500, 1700, 2000, 1950, 1400, 700, 1350,
     1180, 1180, 1150, 1150, 1150, 1150, 1150],
]
e_sscha = [
    [2760, 2690, 2620, 3010, 2850, 2630, 2750, 2850, 2750, 2630, 2850, 3010, 2620, 2690, 2760,
     2750, 2650, 2800, 2600, 2800, 2880, 2870, 2700, 2550, 2400, 2370, 2320, 2200, 2450, 2760,
     3000, 2900, 2780, 2800, 2850, 2820, 2850],
    [0, 1600, 2500, 2380, 2520, 2500, 2150, 1740, 2150, 2500, 2520, 2380, 2500, 1600, 0,
     2000, 2270, 2050, 1900, 1550, 1140, 1200, 1400, 1650, 1950, 2140, 2000, 1750, 1350, 0,
     2230, 2300, 2200, 2250, 2450, 2600, 2830],
    [1180, 1380, 1630, 1480, 1520, 1500, 1320, 1170, 1320, 1500, 1520, 1480, 1630, 1380, 1180,
     1300, 1250, 2500, 2780, 2850, 2850, 2780, 2650, 2500, 2350, 2300, 2250, 2250, 1800, 1300,
     1300, 1300, 1280, 1780, 1700, 1500, 1140],
    [0, 520, 950, 1240, 1200, 1170, 1170, 1170, 1170, 1170, 1200, 1240, 950, 520, 0,
     480, 750, 850, 950, 950, 880, 880, 850, 720, 740, 1000, 1100, 950, 520, 0,
     1130, 1150, 1080, 1030, 1080, 1100, 1120],
    [0, 360, 680, 870, 820, 720, 650, 640, 650, 720, 820, 870, 680, 360, 0,
     420, 680, 830, 880, 880, 870, 870, 780, 720, 720, 1080, 1030, 830, 470, 0,
     880, 870, 840, 840, 860, 860, 860],
    [1180, 1200, 1250, 1180, 1180, 1170, 1160, 1160, 1160, 1170, 1180, 1180, 1250, 1200, 1180,
     1200, 1300, 1150, 1100, 1050, 1140, 1250, 1450, 1550, 1750, 1950, 2080, 1550, 1250, 1180,
     1160, 1140, 1030, 1030, 720, 820, 860],
]

# 642 GPa
f_harm = [
    [2750, 2650, 2550, 3160, 2900, 2550, 2680, 2800, 2680, 2550, 2900, 3160, 2550, 2650, 2750,
     2750, 2650, 2850, 2450, 2750, 2950, 2920, 2780, 2650, 2450, 2400, 2350, 2250, 2300, 2750,
     3150, 3050, 2900, 3000, 3050, 3000, 2900],
    [0, 1450, 2350, 2250, 2350, 2330, 2100, 1850, 2100, 2330, 2350, 2250, 2350, 1450, 0,
     2100, 2300, 2100, 1950, 1700, 1200, 1200, 1400, 1650, 1950, 2300, 2150, 1850, 1350, 0,
     2250, 2200, 2150, 2350, 2450, 2650, 2850],
    [1360, 1350, 1450, 1520, 1480, 1360, 1320, 1320, 1320, 1360, 1480, 1520, 1450, 1350, 1360,
     1350, 1000, 2400, 2950, 3000, 2900, 2780, 2650, 2550, 2400, 2350, 2300, 2000, 1600, 1360,
     1500, 1850, 1800, 1750, 1800, 1550, 1200],
    [0, 530, 900, 1040, 920, 680, 760, 730, 760, 680, 920, 1040, 900, 530, 0,
     340, 780, 880, 850, 1150, 1180, 1180, 950, 780, 1150, 1150, 1050, 880, 450, 0,
     1180, 1180, 1000, 1000, 850, 1000, 1150],
    [0, 320, 640, 860, 820, 720, 660, 650, 660, 720, 820, 860, 640, 320, 0,
     230, 640, 800, 900, 900, 880, 880, 830, 730, 730, 1100, 1040, 800, 430, 0,
     870, 860, 830, 830, 740, 870, 870],
    [1360, 1200, 1220, 1250, 1170, 1220, 1300, 1320, 1300, 1220, 1170, 1250, 1220, 1200, 1360,
     1360, 1310, 1170, 1120, 1120, 1150, 1320, 1380, 1520, 1720, 2050, 2000, 1450, 1000, 1360,
     1200, 1200, 1170, 1170, 1170, 1170, 1170],
]
f_sscha = [
    [2890, 2820, 2750, 3040, 2950, 2750, 2850, 2940, 2850, 2750, 2950, 3040, 2750, 2820, 2890,
     2880, 2760, 2900, 2880, 2900, 2920, 2900, 2750, 2620, 2500, 2450, 2400, 2300, 2550, 2890,
     3050, 3000, 2900, 2920, 2900, 2850, 2900],
    [0, 1700, 2620, 2320, 2630, 2600, 2200, 1770, 2200, 2600, 2630, 2320, 2620, 1700, 0,
     2050, 2350, 2150, 1950, 1600, 1150, 1220, 1450, 1700, 2000, 2200, 2050, 1800, 1400, 0,
     2300, 2350, 2250, 2300, 2500, 2650, 2880],
    [1190, 1400, 1690, 1520, 1560, 1540, 1350, 1190, 1350, 1540, 1560, 1520, 1690, 1400, 1190,
     1300, 1250, 2550, 2850, 2900, 2900, 2850, 2700, 2550, 2400, 2380, 2350, 2300, 1850, 1300,
     1350, 1350, 1300, 1850, 1750, 1550, 1150],
    [0, 540, 980, 1250, 1210, 1190, 1190, 1190, 1190, 1190, 1210, 1250, 980, 540, 0,
     500, 780, 880, 960, 960, 900, 900, 870, 730, 760, 1050, 1130, 980, 550, 0,
     1150, 1170, 1100, 1050, 1100, 1120, 1150],
    [0, 370, 700, 860, 820, 720, 650, 640, 650, 720, 820, 860, 700, 370, 0,
     430, 700, 850, 900, 900, 880, 880, 800, 730, 730, 1100, 1050, 850, 480, 0,
     870, 860, 840, 840, 700, 860, 860],
    [1190, 1210, 1260, 1200, 1200, 1190, 1180, 1180, 1180, 1190, 1200, 1200, 1260, 1210, 1190,
     1220, 1320, 1170, 1120, 1080, 1150, 1270, 1480, 1580, 1780, 2000, 2100, 1600, 1280, 1190,
     1180, 1160, 1050, 1050, 880, 870, 860],
]

panel_letters = ["a", "b", "c", "d", "e", "f"]
panel_titles = ["Cmca-12 : 450 GPa", "Cmca-12 : 500 GPa", "Cmca-12 : 600 GPa",
                r"I4$_1$/amd-2 : 500 GPa", r"I4$_1$/amd-2 : 581 GPa", r"I4$_1$/amd-2 : 642 GPa"]


def bands_frame(kpath, bands, kind, tag):
    rows = []
    for i, band in enumerate(bands):
        assert len(band) == len(kpath), (tag, kind, i, len(band))
        for k, f in zip(kpath, band):
            rows.append((k, f, f"{tag}-{kind}-{i}", kind))
    return pd.DataFrame(rows, columns=["k", "freq", "band", "kind"])


W, H = 1222, 601
fig = plt.figure(figsize=(W / 100, H / 100), dpi=100)

lefts = [87.5, 483.3, 879.3]
ax_w = 331.5
rows_px = [(18.3, 272.7), (322.7, 576.0)]

panels = [
    (cmca_k, a_harm, a_sscha), (cmca_k, b_harm, b_sscha), (cmca_k, c_harm, c_sscha),
    (i4_k, d_harm, d_sscha), (i4_k, e_harm, e_sscha), (i4_k, f_harm, f_sscha),
]

for idx, (kpath, harm, sscha) in enumerate(panels):
    r, c = divmod(idx, 3)
    top_px, bot_px = rows_px[r]
    ax = fig.add_axes([lefts[c] / W, 1 - bot_px / H, ax_w / W, (bot_px - top_px) / H])

    df_h = bands_frame(kpath, harm, "Harmonic", panel_letters[idx])
    df_s = bands_frame(kpath, sscha, "SSCHA", panel_letters[idx])
    sns.lineplot(data=df_h, x="k", y="freq", units="band", estimator=None, sort=False,
                 color=HARM_COLOR, lw=1.0, ax=ax, legend=False)
    sns.lineplot(data=df_s, x="k", y="freq", units="band", estimator=None, sort=False,
                 color=SSCHA_COLOR, lw=1.0, ax=ax, legend=False)

    ax.set_xlim(0, 1)
    if r == 0:
        ax.set_ylim(0, 5930)
        ax.set_yticks([0, 1000, 2000, 3000, 4000, 5000])
        ax.set_xticks(cmca_ticks)
        ax.set_xticklabels(cmca_labels, fontsize=9.5)
        ax.text(0.04, 0.874, panel_titles[idx], transform=ax.transAxes,
                fontsize=13.3, va="center", ha="left")
    else:
        ax.set_ylim(0, 3750)
        ax.set_yticks([0, 1000, 2000, 3000])
        ax.set_xticks(i4_ticks)
        ax.set_xticklabels(i4_labels, fontsize=9)
        for lab in ax.get_xticklabels():
            if lab.get_text() == "R|G":
                lab.set_horizontalalignment("left")
        ax.text(0.043, 0.917, panel_titles[idx], transform=ax.transAxes,
                fontsize=13.3, va="center", ha="left")

    ax.tick_params(axis="x", pad=1.5)
    ax.tick_params(axis="y", labelsize=14, pad=0.5)
    ax.set_xlabel("")
    if c == 0:
        ax.set_ylabel(r"Frequency (cm$^{-1}$)", fontsize=13)
        ax.yaxis.set_label_coords(-0.175, 0.5)
    else:
        ax.set_ylabel("")
        ax.set_yticklabels([])

    handles = [Line2D([], [], color=HARM_COLOR, lw=1.0),
               Line2D([], [], color=SSCHA_COLOR, lw=1.0)]
    ax.legend(handles, ["Harmonic", "SSCHA"], loc="upper right", frameon=False,
              fontsize=13, handlelength=2.0, labelspacing=0.45)

    fig.text((lefts[c] - 30.8) / W, 1 - (19 if r == 0 else 323) / H, panel_letters[idx],
             fontsize=12.5, fontweight="bold", ha="left", va="baseline")

fig.savefig("out.png", dpi=100)
